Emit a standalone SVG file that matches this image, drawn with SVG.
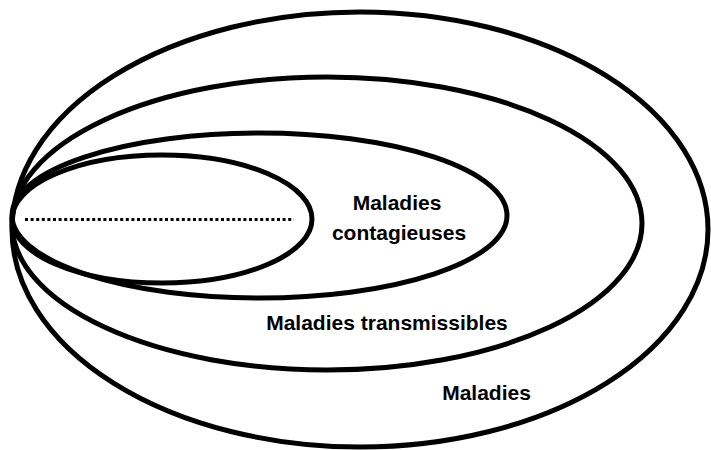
<svg xmlns="http://www.w3.org/2000/svg" width="711" height="450" viewBox="0 0 711 450">
<style>
.e{fill:none;stroke:#000;stroke-width:5}
.t{font-family:"Liberation Sans",Arial,sans-serif;font-weight:bold;font-size:21px;fill:#000;text-anchor:middle}
</style>
<rect width="711" height="450" fill="#fff"/>
<g id="maladies">
<ellipse class="e" cx="360" cy="229.5" rx="348" ry="217.5"/>
<text class="t" x="486.5" y="400">Maladies</text>
</g>
<g id="transmissibles">
<ellipse class="e" cx="327" cy="223.5" rx="315" ry="146.5"/>
<text class="t" x="387" y="330">Maladies transmissibles</text>
</g>
<g id="contagieuses">
<ellipse class="e" cx="259.5" cy="215.5" rx="247.5" ry="82.5"/>
<text class="t" x="397" y="210">Maladies</text>
<text class="t" x="399" y="240">contagieuses</text>
</g>
<g id="inner">
<ellipse class="e" cx="162" cy="219" rx="150" ry="64"/>
</g>
<g id="connectors">
<line x1="25" y1="219.5" x2="294" y2="219.5" stroke="#000" stroke-width="3" stroke-dasharray="3,2.6"/>
</g>
</svg>
